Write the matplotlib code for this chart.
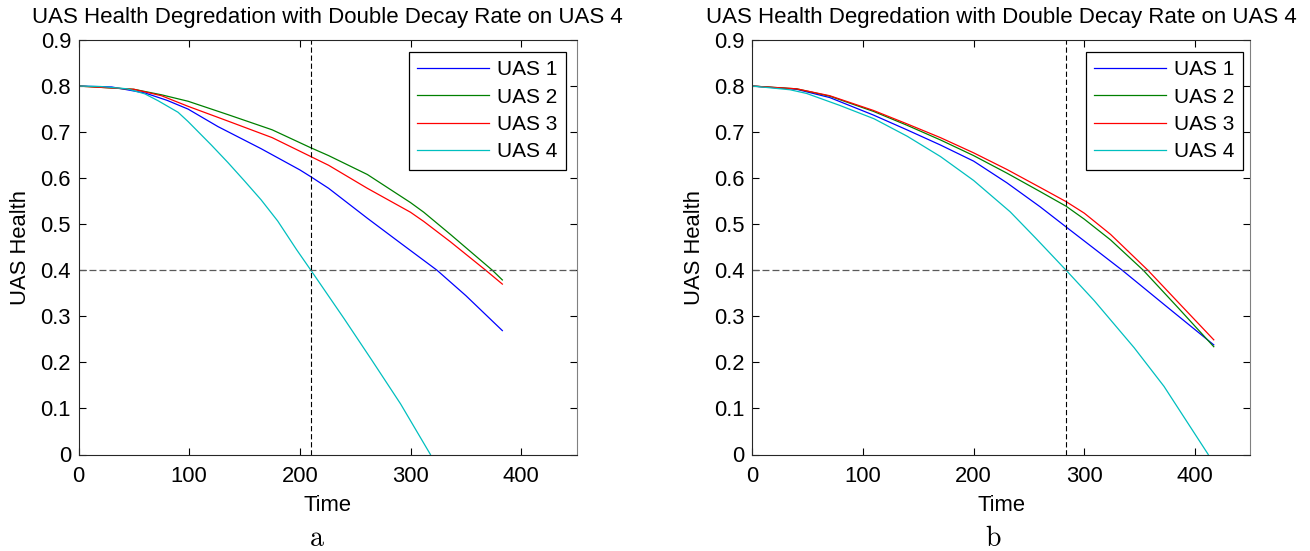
import matplotlib
matplotlib.use("Agg")
import matplotlib.pyplot as plt
from matplotlib.ticker import FuncFormatter

plt.rcParams["font.family"] = ["Liberation Sans", "DejaVu Sans"]
plt.rcParams["mathtext.fontset"] = "cm"
plt.rcParams["lines.scale_dashes"] = False

TITLE = "UAS Health Degredation with Double Decay Rate on UAS 4"
NAMES = ["UAS 1", "UAS 2", "UAS 3", "UAS 4"]
COLORS = ["#0000ff", "#008000", "#ff0000", "#00bfbf"]
THRESHOLD = 0.4

# panel a: UAS 4 decays at double rate from the start
a_t1 = [0, 30, 60, 80, 99, 126, 165, 200, 210, 226, 261, 291, 324, 350, 383]
a_h1 = [0.800, 0.798, 0.785, 0.769, 0.750, 0.712, 0.664, 0.618, 0.603, 0.578,
        0.513, 0.459, 0.400, 0.345, 0.269]
a_t2 = [0, 50, 75, 99, 135, 175, 209, 226, 261, 300, 312, 336, 374, 383]
a_h2 = [0.800, 0.793, 0.781, 0.767, 0.738, 0.705, 0.667, 0.649, 0.608, 0.547,
        0.526, 0.478, 0.400, 0.379]
a_t3 = [0, 50, 75, 99, 135, 175, 209, 226, 261, 300, 312, 336, 368, 383]
a_h3 = [0.800, 0.793, 0.779, 0.756, 0.724, 0.688, 0.648, 0.628, 0.578, 0.526,
        0.506, 0.462, 0.400, 0.370]
a_t4 = [0, 20, 44, 60, 72, 90, 99, 120, 135, 150, 165, 180, 197, 210, 240, 265,
        291, 318]
a_h4 = [0.800, 0.799, 0.794, 0.783, 0.768, 0.743, 0.723, 0.672, 0.634, 0.594,
        0.553, 0.507, 0.445, 0.400, 0.295, 0.205, 0.110, 0.000]
a_cross = 210

# panel b
b_t1 = [0, 40, 70, 109.5, 139.7, 170, 200, 230, 260, 283.6, 334.3, 375, 417]
b_h1 = [0.800, 0.793, 0.775, 0.737, 0.705, 0.672, 0.637, 0.590, 0.538, 0.494,
        0.400, 0.320, 0.238]
b_t2 = [0, 40, 70, 109.5, 139.7, 170, 200, 230, 260, 283.6, 300, 323.7, 353.3,
        385, 417]
b_h2 = [0.800, 0.794, 0.778, 0.745, 0.715, 0.683, 0.649, 0.611, 0.571, 0.539,
        0.511, 0.466, 0.400, 0.318, 0.234]
b_t3 = [0, 40, 70, 109.5, 139.7, 170, 200, 230, 260, 283.6, 300, 323.7, 357.5,
        387, 417]
b_h3 = [0.800, 0.794, 0.779, 0.747, 0.718, 0.688, 0.655, 0.619, 0.580, 0.549,
        0.524, 0.478, 0.400, 0.325, 0.249]
b_t4 = [0, 34, 49, 79, 110, 140, 170, 200, 233, 256, 283.6, 309, 345, 372, 412]
b_h4 = [0.800, 0.792, 0.784, 0.758, 0.729, 0.691, 0.647, 0.595, 0.527, 0.470,
        0.400, 0.334, 0.232, 0.148, 0.000]
b_cross = 283.6

W, H = 1310, 551
FS = 15.8


def draw_panel(ax, series, cross, legend_x):
    for (t, h), name, color in zip(series, NAMES, COLORS):
        ax.plot(t, h, color=color, linewidth=0.9, label=name)
    ax.axvline(cross, color="black", linewidth=0.8, dashes=(3.8, 2.0))
    ax.axhline(THRESHOLD, color="0.35", linewidth=0.9, dashes=(5.0, 2.2))

    ax.set_xlim(0, 450)
    ax.set_ylim(0, 0.9)
    ax.set_xticks([0, 100, 200, 300, 400])
    ax.set_yticks([i / 10 for i in range(10)])
    ax.yaxis.set_major_formatter(FuncFormatter(lambda v, _: f"{v:g}"))
    ax.tick_params(axis="both", direction="in", length=5, width=0.8,
                   top=True, right=True, labelsize=FS)
    ax.tick_params(axis="x", pad=8.5)
    ax.tick_params(axis="y", pad=5.4)
    for side in ["left", "top", "bottom"]:
        ax.spines[side].set_color("0.15")
        ax.spines[side].set_linewidth(0.8)
    ax.spines["right"].set_color("0.5")
    ax.spines["right"].set_linewidth(0.8)

    ax.set_title(TITLE, fontsize=16, pad=12)
    ax.set_xlabel("Time", fontsize=FS)
    ax.set_ylabel("UAS Health", fontsize=FS)
    ax.xaxis.set_label_coords(0.5, -0.097)
    ax.yaxis.set_label_coords(-0.095, 0.5)

    leg = ax.legend(loc="upper right", bbox_to_anchor=(legend_x, 0.971),
                    fontsize=15, frameon=True, fancybox=False, framealpha=1,
                    edgecolor="black", handlelength=3.45, handletextpad=0.4,
                    labelspacing=0.4, borderpad=0.4, borderaxespad=0)
    leg.get_frame().set_linewidth(0.9)


fig = plt.figure(figsize=(W / 100, H / 100), dpi=100)
ax_a = fig.add_axes([78.5 / W, (H - 454.5) / H, 498 / W, 414.5 / H])
ax_b = fig.add_axes([752.3 / W, (H - 454.5) / H, 498 / W, 414.5 / H])

draw_panel(ax_a, [(a_t1, a_h1), (a_t2, a_h2), (a_t3, a_h3), (a_t4, a_h4)],
           a_cross, 0.979)
draw_panel(ax_b, [(b_t1, b_h1), (b_t2, b_h2), (b_t3, b_h3), (b_t4, b_h4)],
           b_cross, 0.985)

fig.text(316.5 / W, 1 - 546 / H, r"$\mathrm{a}$", fontsize=20,
         ha="center", va="baseline")
fig.text(993 / W, 1 - 546 / H, r"$\mathrm{b}$", fontsize=20,
         ha="center", va="baseline")

fig.savefig("out.png", dpi=100)
